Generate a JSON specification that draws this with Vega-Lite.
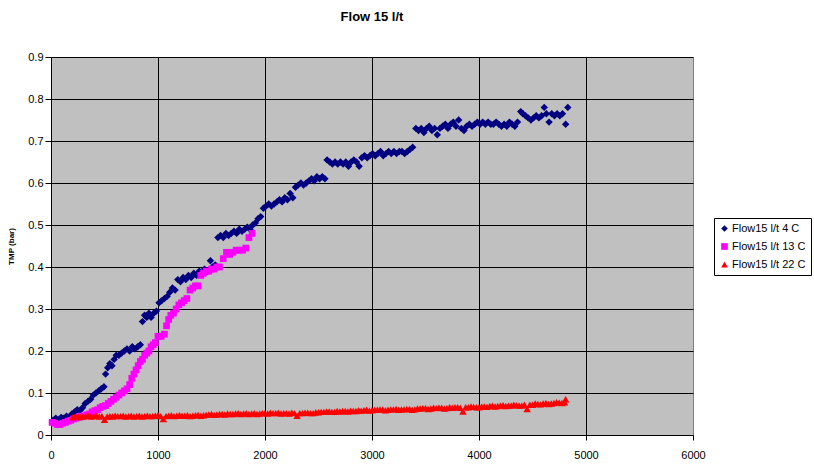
{
"$schema": "https://vega.github.io/schema/vega-lite/v6.json",
"width": 642, "height": 378,
"autosize": "none",
"padding": {"left": 51, "top": 57, "right": 121, "bottom": 34},
"background": "white",
"title": {"text": "Flow 15 l/t", "fontSize": 13, "fontWeight": "bold", "font": "Liberation Sans", "anchor": "middle", "frame": "group", "baseline": "alphabetic", "offset": 17, "color": "black"},
"config": {"view": {"fill": "#C0C0C0", "stroke": "#808080", "strokeWidth": 1}},
"datasets": {
"blue": [[20,0.035],[45,0.04],[70,0.035],[95,0.042],[120,0.04],[145,0.045],[170,0.042],[195,0.05],[220,0.055],[245,0.06],[270,0.058],[295,0.065],[320,0.075],[345,0.08],[370,0.085],[395,0.095],[420,0.1],[445,0.105],[470,0.11],[495,0.115],[510,0.145],[530,0.16],[550,0.17],[570,0.165],[590,0.18],[610,0.19],[635,0.19],[660,0.195],[685,0.2],[710,0.205],[735,0.2],[760,0.21],[785,0.205],[810,0.21],[835,0.215],[855,0.27],[875,0.285],[895,0.28],[915,0.29],[935,0.28],[960,0.29],[985,0.295],[1010,0.315],[1035,0.32],[1060,0.325],[1085,0.33],[1110,0.34],[1135,0.35],[1160,0.345],[1185,0.37],[1210,0.365],[1235,0.375],[1260,0.37],[1285,0.38],[1310,0.375],[1335,0.385],[1360,0.38],[1385,0.39],[1410,0.385],[1435,0.395],[1460,0.39],[1490,0.415],[1510,0.4],[1535,0.405],[1560,0.47],[1585,0.475],[1610,0.47],[1635,0.48],[1660,0.475],[1685,0.48],[1710,0.485],[1735,0.48],[1760,0.49],[1785,0.485],[1810,0.49],[1835,0.495],[1860,0.49],[1885,0.5],[1910,0.505],[1935,0.515],[1960,0.52],[1985,0.54],[2010,0.545],[2035,0.55],[2060,0.545],[2085,0.55],[2110,0.555],[2135,0.56],[2160,0.555],[2185,0.565],[2210,0.56],[2235,0.575],[2260,0.565],[2285,0.59],[2310,0.595],[2335,0.6],[2360,0.595],[2385,0.6],[2410,0.605],[2435,0.61],[2460,0.605],[2485,0.615],[2510,0.61],[2535,0.615],[2560,0.61],[2580,0.655],[2605,0.65],[2630,0.645],[2655,0.65],[2680,0.645],[2705,0.65],[2730,0.645],[2755,0.65],[2780,0.64],[2805,0.65],[2830,0.655],[2855,0.65],[2880,0.64],[2905,0.66],[2930,0.665],[2955,0.66],[2980,0.665],[3005,0.67],[3030,0.665],[3055,0.67],[3080,0.675],[3105,0.665],[3130,0.67],[3155,0.675],[3180,0.67],[3205,0.675],[3230,0.67],[3255,0.675],[3280,0.675],[3305,0.67],[3330,0.675],[3355,0.68],[3380,0.685],[3410,0.73],[3435,0.725],[3460,0.73],[3485,0.72],[3510,0.73],[3535,0.735],[3560,0.725],[3585,0.73],[3610,0.715],[3635,0.73],[3660,0.735],[3685,0.74],[3710,0.73],[3735,0.74],[3760,0.745],[3785,0.735],[3810,0.75],[3835,0.73],[3860,0.725],[3885,0.735],[3910,0.74],[3935,0.735],[3960,0.74],[3985,0.745],[4010,0.74],[4035,0.745],[4060,0.74],[4085,0.745],[4110,0.74],[4135,0.74],[4160,0.745],[4185,0.74],[4210,0.735],[4235,0.74],[4260,0.735],[4285,0.745],[4310,0.74],[4335,0.735],[4360,0.745],[4390,0.77],[4410,0.765],[4435,0.76],[4460,0.755],[4485,0.75],[4510,0.755],[4535,0.76],[4560,0.755],[4585,0.76],[4610,0.78],[4630,0.765],[4655,0.745],[4680,0.765],[4705,0.76],[4730,0.765],[4755,0.76],[4780,0.765],[4810,0.74],[4830,0.78]],
"pink": [[10,0.03],[35,0.028],[60,0.025],[85,0.025],[110,0.028],[135,0.03],[160,0.033],[185,0.035],[210,0.038],[235,0.04],[260,0.042],[285,0.045],[310,0.045],[335,0.048],[360,0.05],[385,0.055],[410,0.058],[435,0.06],[460,0.065],[485,0.068],[510,0.07],[535,0.075],[560,0.08],[585,0.085],[610,0.09],[635,0.095],[660,0.1],[685,0.105],[710,0.11],[735,0.12],[755,0.135],[775,0.145],[795,0.155],[815,0.165],[835,0.175],[855,0.18],[875,0.19],[895,0.195],[915,0.2],[935,0.21],[955,0.215],[975,0.22],[1000,0.235],[1030,0.235],[1060,0.24],[1080,0.26],[1100,0.275],[1120,0.285],[1145,0.29],[1170,0.3],[1195,0.31],[1220,0.315],[1245,0.32],[1270,0.325],[1300,0.345],[1325,0.35],[1350,0.355],[1375,0.355],[1400,0.38],[1425,0.385],[1450,0.39],[1475,0.39],[1500,0.395],[1525,0.395],[1550,0.4],[1575,0.4],[1610,0.42],[1640,0.435],[1670,0.43],[1700,0.435],[1730,0.44],[1760,0.44],[1790,0.44],[1820,0.445],[1850,0.47],[1880,0.48]],
"red": [[200,0.042],[225,0.044],[250,0.045],[275,0.043],[300,0.044],[325,0.046],[350,0.046],[375,0.044],[400,0.045],[425,0.046],[450,0.044],[475,0.045],[500,0.036],[525,0.044],[550,0.045],[575,0.044],[600,0.046],[625,0.045],[650,0.045],[675,0.046],[700,0.044],[725,0.045],[750,0.046],[775,0.044],[800,0.045],[825,0.046],[850,0.044],[875,0.045],[900,0.046],[925,0.045],[950,0.045],[975,0.046],[1000,0.047],[1025,0.045],[1050,0.038],[1075,0.045],[1100,0.046],[1125,0.047],[1150,0.045],[1175,0.046],[1200,0.047],[1225,0.046],[1250,0.046],[1275,0.047],[1300,0.045],[1325,0.046],[1350,0.047],[1375,0.048],[1400,0.046],[1425,0.047],[1450,0.048],[1475,0.049],[1500,0.05],[1525,0.048],[1550,0.049],[1575,0.05],[1600,0.05],[1625,0.049],[1650,0.051],[1675,0.05],[1700,0.05],[1725,0.051],[1750,0.052],[1775,0.05],[1800,0.051],[1825,0.052],[1850,0.05],[1875,0.051],[1900,0.052],[1925,0.05],[1950,0.051],[1975,0.052],[2000,0.052],[2025,0.051],[2050,0.053],[2075,0.052],[2100,0.052],[2125,0.053],[2150,0.051],[2175,0.052],[2200,0.052],[2225,0.051],[2250,0.053],[2275,0.052],[2300,0.046],[2325,0.052],[2350,0.052],[2375,0.053],[2400,0.053],[2425,0.052],[2450,0.052],[2475,0.054],[2500,0.054],[2525,0.055],[2550,0.055],[2575,0.056],[2600,0.056],[2625,0.055],[2650,0.055],[2675,0.057],[2700,0.056],[2725,0.057],[2750,0.057],[2775,0.056],[2800,0.058],[2825,0.057],[2850,0.057],[2875,0.059],[2900,0.058],[2925,0.059],[2950,0.06],[2975,0.058],[3000,0.059],[3025,0.06],[3050,0.06],[3075,0.061],[3100,0.061],[3125,0.059],[3150,0.06],[3175,0.061],[3200,0.061],[3225,0.062],[3250,0.06],[3275,0.061],[3300,0.061],[3325,0.062],[3350,0.062],[3375,0.06],[3400,0.061],[3425,0.063],[3450,0.063],[3475,0.064],[3500,0.064],[3525,0.062],[3550,0.063],[3575,0.065],[3600,0.064],[3625,0.065],[3650,0.065],[3675,0.063],[3700,0.064],[3725,0.066],[3750,0.065],[3775,0.066],[3800,0.066],[3825,0.065],[3850,0.056],[3875,0.066],[3900,0.066],[3925,0.068],[3950,0.067],[3975,0.066],[4000,0.066],[4025,0.068],[4050,0.068],[4075,0.067],[4100,0.069],[4125,0.07],[4150,0.068],[4175,0.069],[4200,0.07],[4225,0.071],[4250,0.069],[4275,0.07],[4300,0.07],[4325,0.072],[4350,0.071],[4375,0.07],[4400,0.07],[4425,0.072],[4450,0.062],[4475,0.072],[4500,0.072],[4525,0.075],[4550,0.074],[4575,0.073],[4600,0.075],[4625,0.076],[4650,0.074],[4675,0.075],[4700,0.076],[4725,0.078],[4750,0.077],[4775,0.076],[4800,0.078],[4810,0.085]]
},
"layer": [
{"data": {"name": "blue"}, "transform": [{"calculate": "datum[0]", "as": "t"}, {"calculate": "datum[1]", "as": "tmp"}, {"calculate": "'Flow15 l/t 4 C'", "as": "series"}], "mark": {"type": "point", "filled": true, "opacity": 1, "strokeWidth": 0, "size": 55}, "encoding": {}},
{"data": {"name": "pink"}, "transform": [{"calculate": "datum[0]", "as": "t"}, {"calculate": "datum[1]", "as": "tmp"}, {"calculate": "'Flow15 l/t 13 C'", "as": "series"}], "mark": {"type": "point", "filled": true, "opacity": 1, "strokeWidth": 0, "size": 45}, "encoding": {}},
{"data": {"name": "red"}, "transform": [{"calculate": "datum[0]", "as": "t"}, {"calculate": "datum[1]", "as": "tmp"}, {"calculate": "'Flow15 l/t 22 C'", "as": "series"}], "mark": {"type": "point", "filled": true, "opacity": 1, "strokeWidth": 0, "size": 55}, "encoding": {}}
],
"encoding": {
"x": {"field": "t", "type": "quantitative", "scale": {"domain": [0, 6000], "nice": false}, "axis": {"title": null, "values": [0,1000,2000,3000,4000,5000,6000], "format": "d", "grid": true, "gridColor": {"condition": {"test": "datum.value == 6000", "value": "#808080"}, "value": "black"}, "gridOpacity": 1, "domainColor": "black", "tickColor": "black", "tickSize": 5, "labelPadding": 9, "labelFont": "Liberation Sans", "labelFontSize": 11, "labelColor": "black", "labelFlush": false}},
"y": {"field": "tmp", "type": "quantitative", "scale": {"domain": [0, 0.9], "nice": false, "zero": true}, "axis": {"title": "TMP (bar)", "titleFont": "Liberation Sans", "titleFontSize": 8, "titleFontWeight": "bold", "titleColor": "black", "titlePadding": 12, "values": [0,0.1,0.2,0.3,0.4,0.5,0.6,0.7,0.8,0.9], "format": ".1~f", "grid": true, "gridColor": "black", "gridOpacity": 1, "domainColor": "black", "tickColor": "black", "tickSize": 6, "labelPadding": 2, "labelFont": "Liberation Sans", "labelFontSize": 11, "labelColor": "black", "labelFlush": false}},
"color": {"field": "series", "type": "nominal", "scale": {"domain": ["Flow15 l/t 4 C", "Flow15 l/t 13 C", "Flow15 l/t 22 C"], "range": ["#000080", "#FF00FF", "#FF0000"]}, "legend": {"title": null, "orient": "none", "legendX": 663, "legendY": 161, "strokeColor": "black", "fillColor": "white", "padding": 5, "labelFont": "Liberation Sans", "labelFontSize": 11, "labelColor": "black", "symbolSize": 45, "symbolStrokeWidth": 0, "labelOffset": 2, "rowPadding": 6, "symbolOpacity": 1}},
"shape": {"field": "series", "type": "nominal", "scale": {"domain": ["Flow15 l/t 4 C", "Flow15 l/t 13 C", "Flow15 l/t 22 C"], "range": ["diamond", "square", "triangle-up"]}, "legend": null}
}
}
